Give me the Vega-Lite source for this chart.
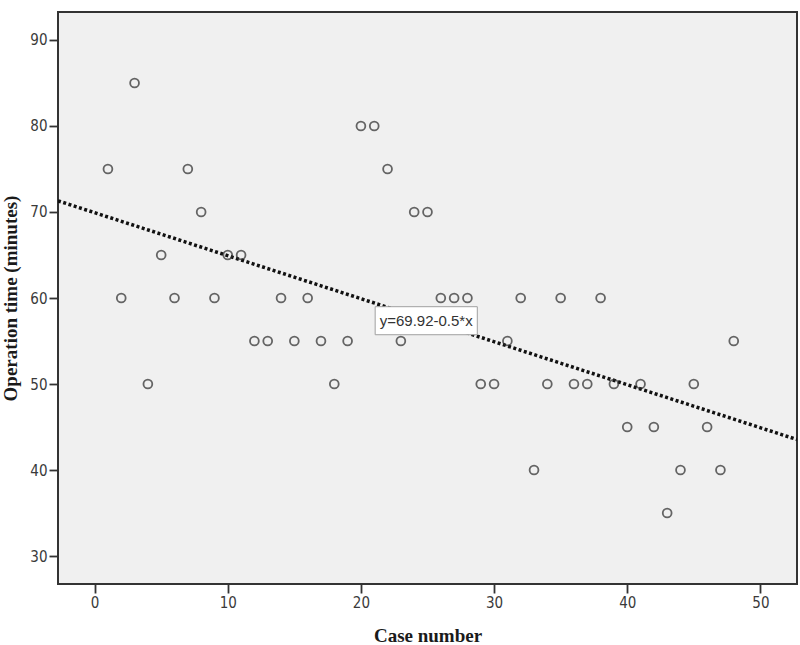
{
  "$schema": "https://vega.github.io/schema/vega-lite/v6.json",
  "width": 739,
  "height": 572,
  "autosize": {"type": "none"},
  "padding": {"left": 58, "top": 12, "right": 3, "bottom": 61},
  "background": "white",
  "config": {
    "view": {"fill": "#f0f0f0", "stroke": "#333333", "strokeWidth": 2},
    "axis": {
      "grid": false,
      "domain": false,
      "tickColor": "#333333",
      "tickWidth": 1.8,
      "tickSize": 9,
      "labelFont": "Liberation Sans Narrow, DejaVu Sans Condensed, sans-serif",
      "labelFontSize": 15,
      "labelColor": "#3a3a3a",
      "labelPadding": 2,
      "titleFont": "Liberation Serif, serif",
      "titleFontWeight": "bold",
      "titleFontSize": 19,
      "titleColor": "#1a1a1a"
    }
  },
  "datasets": {
    "cases": [
      {"case": 1, "time": 75}, {"case": 2, "time": 60}, {"case": 3, "time": 85}, {"case": 4, "time": 50},
      {"case": 5, "time": 65}, {"case": 6, "time": 60}, {"case": 7, "time": 75}, {"case": 8, "time": 70},
      {"case": 9, "time": 60}, {"case": 10, "time": 65}, {"case": 11, "time": 65}, {"case": 12, "time": 55},
      {"case": 13, "time": 55}, {"case": 14, "time": 60}, {"case": 15, "time": 55}, {"case": 16, "time": 60},
      {"case": 17, "time": 55}, {"case": 18, "time": 50}, {"case": 19, "time": 55}, {"case": 20, "time": 80},
      {"case": 21, "time": 80}, {"case": 22, "time": 75}, {"case": 23, "time": 55}, {"case": 24, "time": 70},
      {"case": 25, "time": 70}, {"case": 26, "time": 60}, {"case": 27, "time": 60}, {"case": 28, "time": 60},
      {"case": 29, "time": 50}, {"case": 30, "time": 50}, {"case": 31, "time": 55}, {"case": 32, "time": 60},
      {"case": 33, "time": 40}, {"case": 34, "time": 50}, {"case": 35, "time": 60}, {"case": 36, "time": 50},
      {"case": 37, "time": 50}, {"case": 38, "time": 60}, {"case": 39, "time": 50}, {"case": 40, "time": 45},
      {"case": 41, "time": 50}, {"case": 42, "time": 45}, {"case": 43, "time": 35}, {"case": 44, "time": 40},
      {"case": 45, "time": 50}, {"case": 46, "time": 45}, {"case": 47, "time": 40}, {"case": 48, "time": 55}
    ],
    "fit": [
      {"case": -2.75, "time": 71.295},
      {"case": 52.75, "time": 43.545}
    ],
    "label": [
      {"x1": 21.07, "x2": 28.74, "y1": 58.99, "y2": 55.73, "xc": 24.9, "yc": 57.36, "text": "y=69.92-0.5*x"}
    ]
  },
  "layer": [
    {
      "data": {"name": "fit"},
      "mark": {"type": "line", "color": "#111111", "strokeWidth": 3.5, "strokeDash": [3, 2.5], "clip": true},
      "encoding": {
        "x": {"field": "case", "type": "quantitative",
              "scale": {"domain": [-2.75, 52.75], "nice": false, "zero": false},
              "axis": {"values": [0, 10, 20, 30, 40, 50], "title": "Case number", "titleBaseline": "alphabetic", "titleY": 57}},
        "y": {"field": "time", "type": "quantitative",
              "scale": {"domain": [26.75, 93.25], "nice": false, "zero": false},
              "axis": {"values": [30, 40, 50, 60, 70, 80, 90], "title": "Operation time (minutes)", "titleBaseline": "alphabetic", "titleX": -42}}
      }
    },
    {
      "data": {"name": "cases"},
      "mark": {"type": "point", "shape": "circle", "filled": false, "stroke": "#2a2a2a", "strokeWidth": 1.8, "size": 78},
      "encoding": {
        "x": {"field": "case", "type": "quantitative"},
        "y": {"field": "time", "type": "quantitative"}
      }
    },
    {
      "data": {"name": "label"},
      "mark": {"type": "rect", "fill": "white", "stroke": "#a0a0a0", "strokeWidth": 1},
      "encoding": {
        "x": {"field": "x1", "type": "quantitative"},
        "x2": {"field": "x2"},
        "y": {"field": "y1", "type": "quantitative"},
        "y2": {"field": "y2"}
      }
    },
    {
      "data": {"name": "label"},
      "mark": {"type": "text", "font": "Liberation Sans, Arial, sans-serif", "fontSize": 15, "color": "#333333", "align": "center", "baseline": "middle"},
      "encoding": {
        "x": {"field": "xc", "type": "quantitative"},
        "y": {"field": "yc", "type": "quantitative"},
        "text": {"field": "text"}
      }
    }
  ]
}
